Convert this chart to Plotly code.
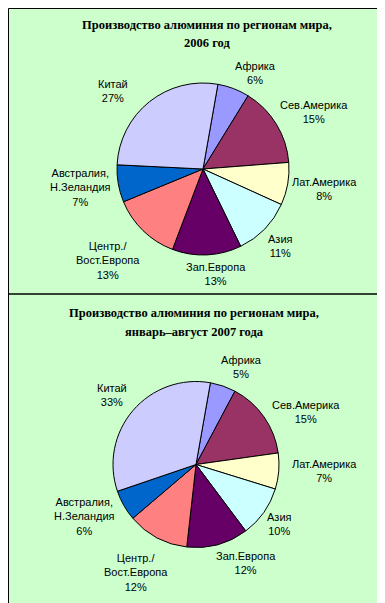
import plotly.graph_objects as go

# ---- data ----
regions = ["Африка", "Сев.Америка", "Лат.Америка", "Азия", "Зап.Европа",
           "Центр./\nВост.Европа", "Австралия,\nН.Зеландия", "Китай"]
share_2006 = [6, 15, 8, 11, 13, 13, 7, 27]
share_2007 = [5, 15, 7, 10, 12, 12, 6, 33]
title_2006 = ["Производство алюминия по регионам мира,", "2006 год"]
title_2007 = ["Производство алюминия по регионам мира,", "январь–август 2007 года"]

# ---- styles / layout ----
W, H = 385, 603
colors = ["#9999FF", "#993366", "#FFFFCC", "#CCFFFF", "#660066",
          "#FF8080", "#0066CC", "#CCCCFF"]
bg = "#CCFFCC"

def px_x(x):
    return x / W

def px_y(y):
    return 1 - y / H

# pie geometry (pixels): center x, center y, radius
pie_geo = [(195, 161, 86), (188, 456.5, 83)]
# label centers (pixels) for each pie, in slice order
label_pos = [
    [(247, 64.5), (306, 104), (316, 180.5), (272, 238.5), (208, 265.5),
     (100, 252), (72, 179), (105, 83.5)],
    [(233, 358.5), (298, 403.5), (316, 462.5), (271, 516), (238, 554.5),
     (128, 564), (76, 508), (104, 387)],
]
title_pos = [[(199, 17), (199, 35)], [(186, 305), (186, 324)]]

fig = go.Figure()
annotations = []
for i, (vals, titles) in enumerate([(share_2006, title_2006), (share_2007, title_2007)]):
    cx, cy, r = pie_geo[i]
    fig.add_trace(go.Pie(
        labels=[n.replace("\n", " ") for n in regions],
        values=vals,
        sort=False,
        direction="clockwise",
        rotation=10,
        textinfo="none",
        hoverinfo="label+percent",
        marker=dict(colors=colors, line=dict(color="black", width=1)),
        domain=dict(x=[px_x(cx - r), px_x(cx + r)], y=[px_y(cy + r), px_y(cy - r)]),
        showlegend=False,
    ))
    for name, v, (lx, ly) in zip(regions, vals, label_pos[i]):
        annotations.append(dict(
            x=px_x(lx), y=px_y(ly), xref="paper", yref="paper",
            xanchor="center", yanchor="middle", showarrow=False,
            text=name.replace("\n", "<br>") + "<br>" + f"{v}%",
            font=dict(family="Liberation Sans, Arial", size=11, color="black"),
            align="center",
        ))
    for t, (tx, ty) in zip(titles, title_pos[i]):
        annotations.append(dict(
            x=px_x(tx), y=px_y(ty), xref="paper", yref="paper",
            xanchor="center", yanchor="middle", showarrow=False,
            text=f"<b>{t}</b>",
            font=dict(family="Liberation Serif, Times New Roman", size=12.5, color="black"),
        ))

shapes = [
    dict(type="rect", xref="paper", yref="paper", x0=px_x(0.5), x1=px_x(383.5),
         y0=px_y(601.5), y1=px_y(0.5), line=dict(color="black", width=1)),
    dict(type="line", xref="paper", yref="paper", x0=0, x1=1,
         y0=px_y(286), y1=px_y(286), line=dict(color="black", width=1.5)),
    dict(type="line", xref="paper", yref="paper", x0=px_x(384), x1=px_x(384),
         y0=0, y1=1, line=dict(color="black", width=2)),
    dict(type="line", xref="paper", yref="paper", x0=0, x1=1,
         y0=px_y(602), y1=px_y(602), line=dict(color="black", width=2)),
]

fig.update_layout(
    width=W, height=H,
    margin=dict(l=0, r=0, t=0, b=0),
    paper_bgcolor=bg, plot_bgcolor=bg,
    annotations=annotations, shapes=shapes,
)

fig.write_html("out.html", config={"displayModeBar": False})
